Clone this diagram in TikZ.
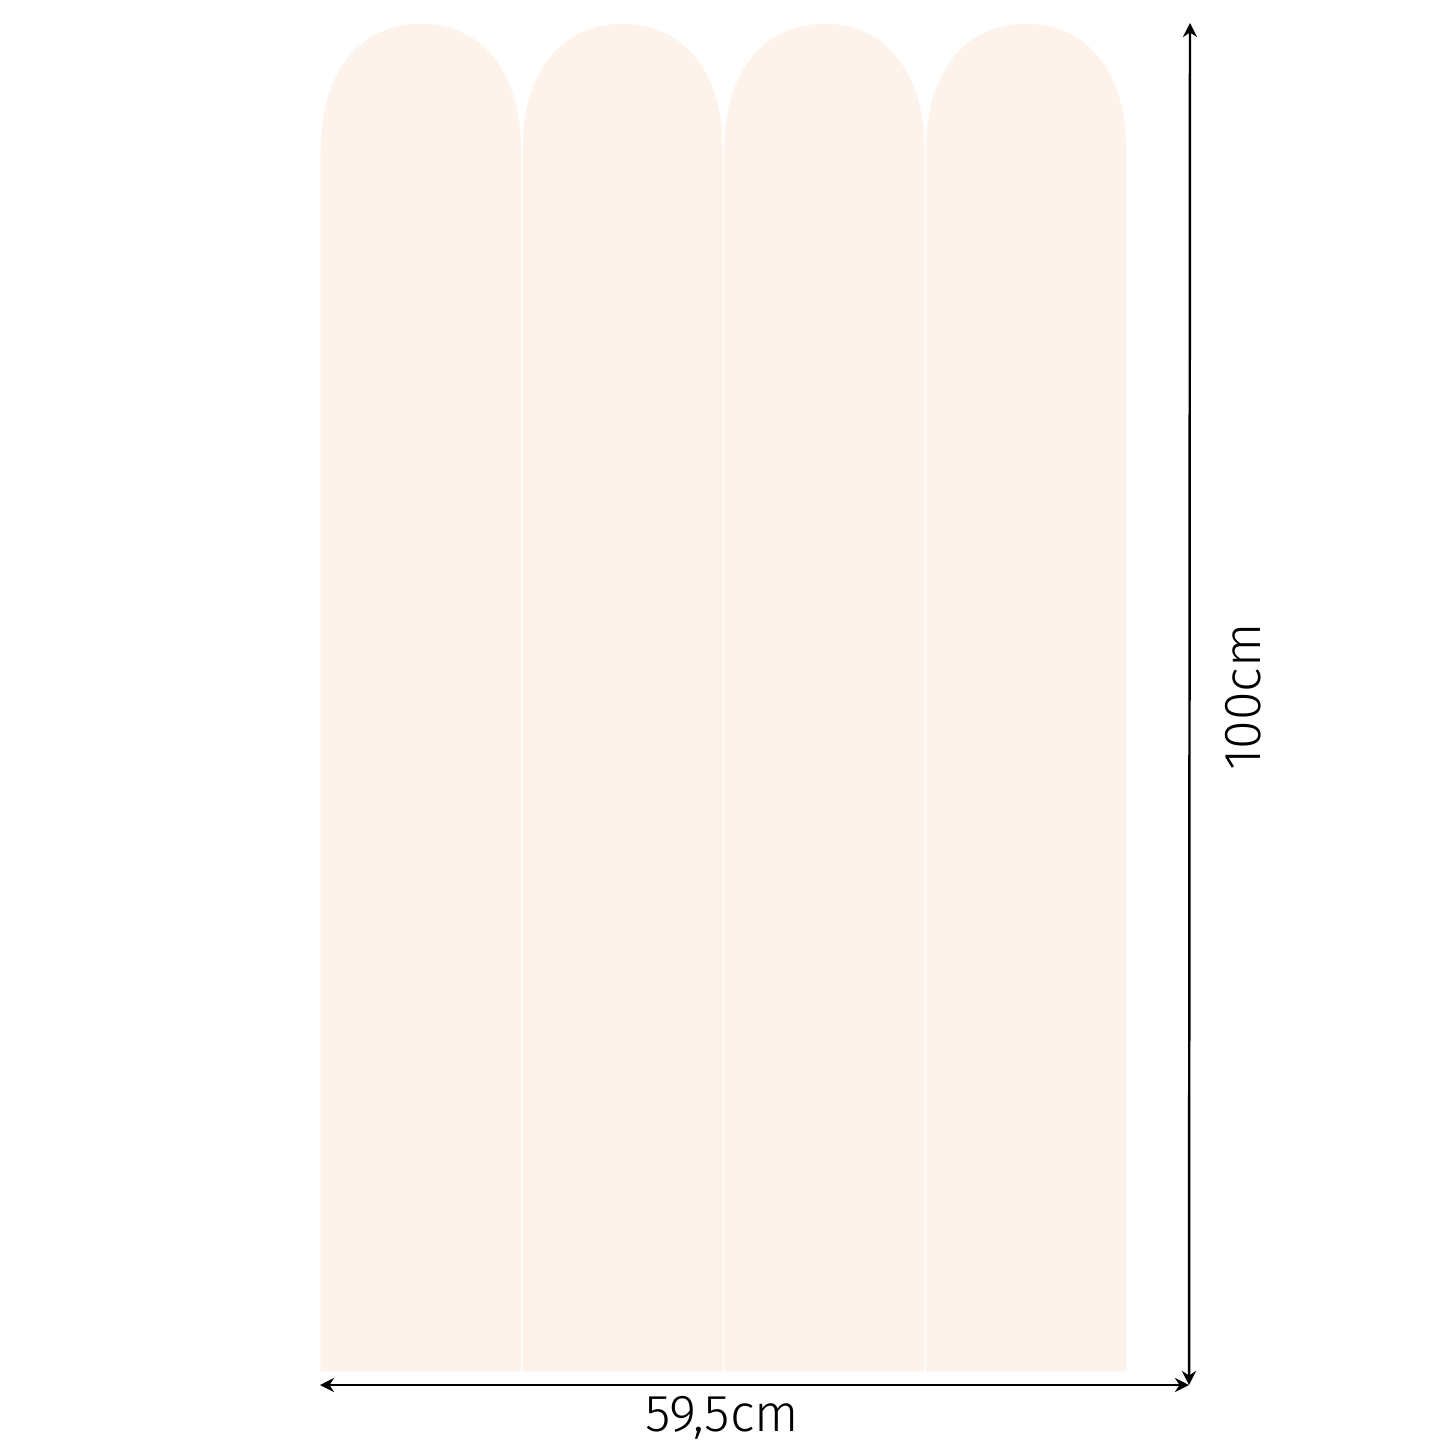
\documentclass[tikz,border=0pt]{standalone}
\usepackage{fontspec}
\setmainfont{Fira Sans}[UprightFont=* Light]
\definecolor{panelpeach}{HTML}{FEF3EB}
\tikzset{
  panel/.style={fill=panelpeach, draw=white, line width=0.4pt},
  dimline/.style={<->, >={Stealth[length=4pt,width=4pt]}, line width=0.7pt},
  dimlabel/.style={font=\fontsize{14.8}{17}\selectfont, inner sep=0pt}
}
\usetikzlibrary{arrows.meta}
\begin{document}
\begin{tikzpicture}[x=0.1mm, y=-0.1mm]
    \useasboundingbox (0,0) rectangle (1445,1445);
    % arched panels
    \foreach \i in {0,...,3} {
      \pgfmathsetmacro{\xl}{320+\i*201.75}
      \pgfmathsetmacro{\xr}{\xl+201.75}
      \pgfmathsetmacro{\xm}{\xl+100.9}
      \fill[panel] (\xl,1372) -- (\xl,150)
        .. controls (\xl,68) and (\xl+42,23) .. (\xm,23)
        .. controls (\xr-42,23) and (\xr,68) .. (\xr,150)
        -- (\xr,1372) -- cycle;
    }
    % dimension lines
    \coordinate (wl) at (320,1385);
    \coordinate (wr) at (1189,1385);
    \coordinate (ht) at (1190,23);
    \draw[dimline] (wl) -- (wr);
    \draw[dimline] (ht) -- (wr);
    \node[dimlabel] (width) at (722,1418) {59,5cm};
    \node[dimlabel, rotate=90] (height) at (1243,697) {100cm};
\end{tikzpicture}
\end{document}
